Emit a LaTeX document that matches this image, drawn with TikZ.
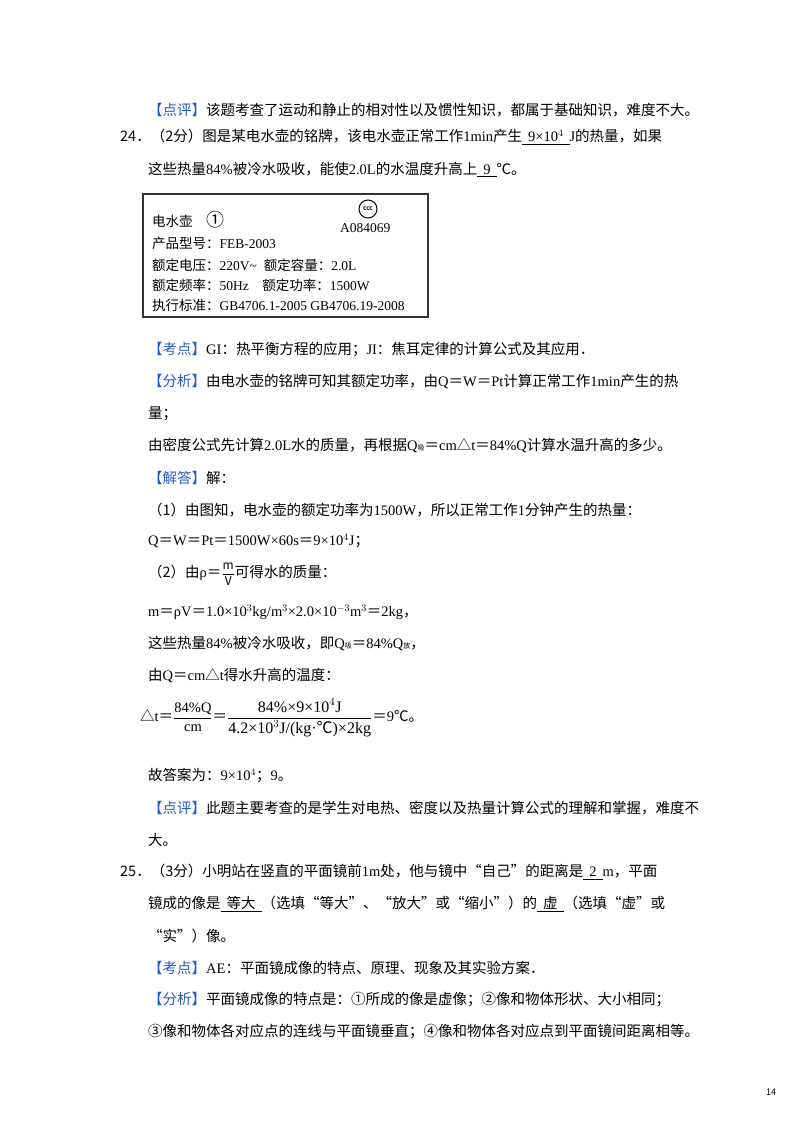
\documentclass[tikz,border=0pt]{standalone}
\usepackage{amsmath}
\usepackage{fontspec}
\setmainfont{Noto Sans CJK SC}
\newfontfamily\lat{Liberation Serif}
\definecolor{kb}{RGB}{40,90,200}
\newcommand{\kh}[1]{\textcolor{kb}{【#1】}}
\newcommand{\ul}[1]{\underline{\hspace{6pt}#1\hspace{6pt}}}
\newcommand{\eq}{{\rmfamily ＝}}
\begin{document}
\begin{tikzpicture}[x=1pt,y=-1pt,
 t/.style={anchor=west,inner sep=0pt,font=\fontsize{14.5}{16}\selectfont},
 s/.style={anchor=west,inner sep=0pt,font=\fontsize{13.5}{15}\selectfont}]
\useasboundingbox[fill=white] (0,0) rectangle (800,1132);
\node[t] (l1) at (148,110) {\kh{点评}该题考查了运动和静止的相对性以及惯性知识，都属于基础知识，难度不大。};
\node[t] (l2) at (120,137) {24．（2分）图是某电水壶的铭牌，该电水壶正常工作{\lat 1min}产生\ul{{\lat 9×10$^4$}}{\lat J}的热量，如果};
\node[t] (l3) at (148,170) {这些热量{\lat 84\%}被冷水吸收，能使{\lat 2.0L}的水温度升高上\ul{{\lat 9}}℃。};
\draw[line width=1.2pt,draw=black!80] (143,194) rectangle (428,317);
\node[s] (b1) at (152,220) {电水壶\quad {\fontsize{18}{18}\selectfont ①}};
\node[draw,circle,inner sep=1pt,minimum size=18pt,line width=1pt] (ccc) at (368,209) {\tiny\bfseries CCC};
\node[s] (b0) at (340,228) {\lat A084069};
\node[s] (b2) at (152,243) {产品型号：{\lat FEB-2003}};
\node[s] (b3) at (152,265) {额定电压：{\lat 220V\textasciitilde}\; 额定容量：{\lat 2.0L}};
\node[s] (b4) at (152,285) {额定频率：{\lat 50Hz}\quad 额定功率：{\lat 1500W}};
\node[s] (b5) at (152,305) {执行标准：{\lat GB4706.1-2005 GB4706.19-2008}};
\node[t] (l4) at (148,350) {\kh{考点}{\lat GI}：热平衡方程的应用；{\lat JI}：焦耳定律的计算公式及其应用．};
\node[t] (l5) at (148,382) {\kh{分析}由电水壶的铭牌可知其额定功率，由{\lat Q}\eq{\lat W}\eq{\lat Pt}计算正常工作{\lat 1min}产生的热};
\node[t] (l6) at (148,414) {量；};
\node[t] (l7) at (148,446) {由密度公式先计算{\lat 2.0L}水的质量，再根据{\lat Q}{\scriptsize 吸}\eq{\lat cm}△{\lat t}\eq{\lat 84\%Q}计算水温升高的多少。};
\node[t] (l8) at (148,478) {\kh{解答}解：};
\node[t] (l9) at (148,510) {（1）由图知，电水壶的额定功率为{\lat 1500W}，所以正常工作{\lat 1}分钟产生的热量：};
\node[t] (l10) at (148,541) {{\lat Q}\eq{\lat W}\eq{\lat Pt}\eq{\lat 1500W×60s}\eq{\lat 9×10$^4$J}；};
\node[t] (l11) at (148,574) {（2）由{\lat ρ}\eq{\fontsize{12}{12}\selectfont$\dfrac{\mathrm{m}}{\mathrm{V}}$}可得水的质量：};
\node[t] (l12) at (148,612) {{\lat m}\eq{\lat ρV}\eq{\lat 1.0×10$^3$kg/m$^3$×2.0×10$^{-3}$m$^3$}\eq{\lat 2kg}，};
\node[t] (l13) at (148,644) {这些热量{\lat 84\%}被冷水吸收，即{\lat Q}{\scriptsize 吸}\eq{\lat 84\%Q}{\scriptsize 放}，};
\node[t] (l14) at (148,676) {由{\lat Q}\eq{\lat cm}△{\lat t}得水升高的温度：};
\node[t] (l15) at (140,718) {△{\lat t}\eq$\dfrac{\mbox{\lat 84\%Q}}{\mbox{\lat cm}}$\eq$\dfrac{\mbox{\fontsize{16}{16}\selectfont\lat 84\%×9×10$^4$J}}{\mbox{\fontsize{16}{16}\selectfont\lat 4.2×10$^3$J/(kg·{\rmfamily ℃})×2kg}}$\eq{\lat 9}℃。};
\node[t] (l16) at (148,776) {故答案为：{\lat 9×10$^4$}；{\lat 9}。};
\node[t] (l17) at (148,808) {\kh{点评}此题主要考查的是学生对电热、密度以及热量计算公式的理解和掌握，难度不};
\node[t] (l18) at (148,840) {大。};
\node[t] (l19) at (120,872) {25．（3分）小明站在竖直的平面镜前{\lat 1m}处，他与镜中“自己”的距离是\ul{{\lat 2}}{\lat m}，平面};
\node[t] (l20) at (148,904) {镜成的像是\ul{等大}（选填“等大”、“放大”或“缩小”）的\ul{虚}（选填“虚”或};
\node[t] (l21) at (148,936) {“实”）像。};
\node[t] (l22) at (148,968) {\kh{考点}{\lat AE}：平面镜成像的特点、原理、现象及其实验方案．};
\node[t] (l23) at (148,1000) {\kh{分析}平面镜成像的特点是：①所成的像是虚像；②像和物体形状、大小相同；};
\node[t] (l24) at (148,1032) {③像和物体各对应点的连线与平面镜垂直；④像和物体各对应点到平面镜间距离相等。};
\node[anchor=west,inner sep=0pt,font=\small] (pg) at (766,1092) {14};
\end{tikzpicture}
\end{document}
